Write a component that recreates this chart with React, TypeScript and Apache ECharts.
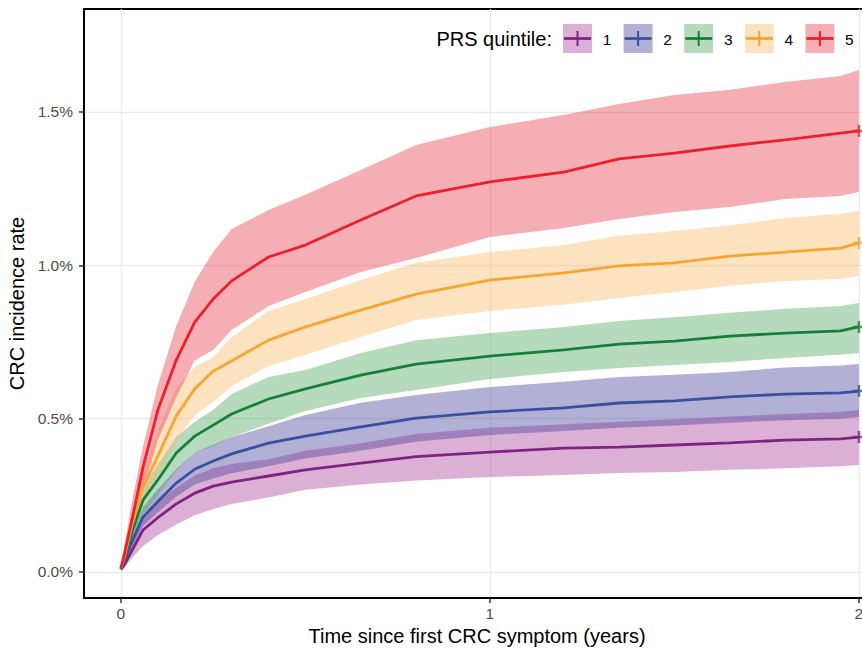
import React, { useEffect, useRef } from 'react';
import * as echarts from 'echarts';

// Time since first CRC symptom (years)
const TIME = [0, 0.01, 0.03, 0.06, 0.1, 0.15, 0.2, 0.25, 0.3, 0.4, 0.5, 0.65, 0.8, 1.0, 1.2, 1.35, 1.5, 1.65, 1.8, 1.95, 2.0];

// CRC incidence rate (%) per PRS quintile: estimate, lower CI, upper CI
const Q1_EST = [0.008, 0.025, 0.07, 0.137, 0.177, 0.222, 0.257, 0.28, 0.293, 0.313, 0.333, 0.355, 0.376, 0.391, 0.404, 0.407, 0.414, 0.421, 0.43, 0.434, 0.44];
const Q1_LO = [0.005, 0.015, 0.045, 0.085, 0.12, 0.155, 0.185, 0.205, 0.222, 0.243, 0.268, 0.285, 0.298, 0.31, 0.316, 0.323, 0.326, 0.333, 0.338, 0.345, 0.349];
const Q1_HI = [0.01, 0.035, 0.095, 0.18, 0.23, 0.275, 0.315, 0.338, 0.352, 0.368, 0.395, 0.42, 0.45, 0.47, 0.482, 0.49, 0.498, 0.507, 0.515, 0.522, 0.528];

const Q2_EST = [0.01, 0.04, 0.1, 0.179, 0.23, 0.29, 0.335, 0.362, 0.385, 0.42, 0.443, 0.473, 0.502, 0.522, 0.535, 0.551, 0.558, 0.571, 0.58, 0.584, 0.59];
const Q2_LO = [0.008, 0.03, 0.08, 0.15, 0.195, 0.245, 0.285, 0.305, 0.322, 0.345, 0.37, 0.395, 0.425, 0.447, 0.46, 0.47, 0.478, 0.487, 0.495, 0.5, 0.505];
const Q2_HI = [0.012, 0.05, 0.125, 0.21, 0.27, 0.335, 0.39, 0.415, 0.44, 0.475, 0.512, 0.552, 0.577, 0.603, 0.62, 0.636, 0.643, 0.652, 0.667, 0.673, 0.678];

const Q3_EST = [0.01, 0.045, 0.13, 0.235, 0.3, 0.388, 0.443, 0.479, 0.515, 0.564, 0.597, 0.642, 0.678, 0.704, 0.724, 0.743, 0.753, 0.769, 0.779, 0.786, 0.799];
const Q3_LO = [0.008, 0.035, 0.1, 0.19, 0.25, 0.33, 0.39, 0.41, 0.44, 0.483, 0.525, 0.567, 0.593, 0.629, 0.652, 0.665, 0.675, 0.685, 0.698, 0.708, 0.714];
const Q3_HI = [0.012, 0.06, 0.16, 0.28, 0.35, 0.44, 0.49, 0.528, 0.58, 0.636, 0.659, 0.714, 0.756, 0.779, 0.799, 0.818, 0.831, 0.845, 0.858, 0.867, 0.877];

const Q4_EST = [0.013, 0.052, 0.153, 0.277, 0.378, 0.509, 0.597, 0.655, 0.688, 0.756, 0.799, 0.854, 0.906, 0.952, 0.975, 0.998, 1.008, 1.03, 1.043, 1.056, 1.073];
const Q4_LO = [0.01, 0.04, 0.12, 0.22, 0.31, 0.43, 0.51, 0.554, 0.606, 0.672, 0.708, 0.766, 0.822, 0.851, 0.871, 0.893, 0.913, 0.933, 0.949, 0.955, 0.965];
const Q4_HI = [0.016, 0.07, 0.19, 0.33, 0.46, 0.6, 0.67, 0.7, 0.766, 0.851, 0.89, 0.952, 1.008, 1.043, 1.066, 1.096, 1.112, 1.131, 1.154, 1.167, 1.177];

const Q5_EST = [0.013, 0.062, 0.17, 0.342, 0.528, 0.691, 0.815, 0.89, 0.949, 1.027, 1.066, 1.148, 1.226, 1.272, 1.304, 1.347, 1.366, 1.389, 1.409, 1.431, 1.438];
const Q5_LO = [0.008, 0.04, 0.13, 0.27, 0.43, 0.57, 0.69, 0.724, 0.789, 0.867, 0.913, 0.978, 1.024, 1.092, 1.122, 1.151, 1.174, 1.19, 1.216, 1.226, 1.239];
const Q5_HI = [0.02, 0.09, 0.23, 0.41, 0.61, 0.802, 0.946, 1.043, 1.118, 1.18, 1.23, 1.311, 1.392, 1.451, 1.49, 1.526, 1.555, 1.572, 1.598, 1.617, 1.637];

const QUINTILES = ['1', '2', '3', '4', '5'];
const X_TICKS = [0, 1, 2];
const Y_TICKS = [0, 0.5, 1.0, 1.5];

const EST = [Q1_EST, Q2_EST, Q3_EST, Q4_EST, Q5_EST];
const LO = [Q1_LO, Q2_LO, Q3_LO, Q4_LO, Q5_LO];
const HI = [Q1_HI, Q2_HI, Q3_HI, Q4_HI, Q5_HI];

const LINE_COLORS = ['#7E2382', '#3B4FA0', '#177F3D', '#F8A432', '#EE1F2D'];
const BAND_COLORS = [
  'rgba(165,58,148,0.4)',
  'rgba(65,58,152,0.4)',
  'rgba(70,162,88,0.4)',
  'rgba(248,183,95,0.4)',
  'rgba(233,53,70,0.4)',
];

const FONT = '"Liberation Sans", Arial, Helvetica, sans-serif';
const PLUS = 'path://M4,0H6V4H10V6H6V10H4V6H0V4H4Z';

export default function App() {
  const ref = useRef<HTMLDivElement>(null);

  useEffect(() => {
    if (!ref.current) return;
    const chart = echarts.init(ref.current, null, { renderer: 'svg' });

    const bandSeries = QUINTILES.map((q, k) => ({
      type: 'custom',
      name: 'band ' + q,
      silent: true,
      z: 1,
      data: TIME.map((t, i) => [t, LO[k][i], HI[k][i]]),
      encode: { x: 0, y: [1, 2] },
      renderItem: (params: any, api: any) => {
        if (params.dataIndex !== 0) return null;
        const n = TIME.length;
        const pts: number[][] = [];
        for (let j = 0; j < n; j++) pts.push(api.coord([api.value(0, j), api.value(2, j)]));
        for (let j = n - 1; j >= 0; j--) pts.push(api.coord([api.value(0, j), api.value(1, j)]));
        return { type: 'polygon', shape: { points: pts }, style: { fill: BAND_COLORS[k] } };
      },
    }));

    const lineSeries = QUINTILES.map((q, k) => ({
      type: 'line',
      name: q,
      z: 3,
      showSymbol: false,
      symbol: 'none',
      data: TIME.map((t, i) => [t, EST[k][i]]),
      lineStyle: { color: LINE_COLORS[k], width: 2.8 },
      itemStyle: { color: LINE_COLORS[k] },
    }));

    const endMarks = {
      type: 'scatter',
      name: 'censor',
      z: 4,
      symbol: PLUS,
      symbolSize: 12,
      data: QUINTILES.map((q, k) => ({
        value: [TIME[TIME.length - 1], EST[k][EST[k].length - 1]],
        itemStyle: { color: LINE_COLORS[k] },
      })),
    };

    const legendX0 = 563;
    const legendStep = 60.6;
    const legendGraphics: any[] = [
      {
        type: 'text',
        x: 552,
        y: 39,
        z: 100,
        style: { text: 'PRS quintile:', align: 'right', verticalAlign: 'middle', fontSize: 20, fontFamily: FONT, fill: '#000' },
      },
    ];
    QUINTILES.forEach((q, k) => {
      const bx = legendX0 + k * legendStep;
      legendGraphics.push(
        { type: 'rect', z: 100, shape: { x: bx, y: 24, width: 29, height: 29 }, style: { fill: BAND_COLORS[k] } },
        { type: 'line', z: 101, shape: { x1: bx + 1, y1: 38.5, x2: bx + 28, y2: 38.5 }, style: { stroke: LINE_COLORS[k], lineWidth: 2.8 } },
        { type: 'line', z: 101, shape: { x1: bx + 14.5, y1: 31, x2: bx + 14.5, y2: 46 }, style: { stroke: LINE_COLORS[k], lineWidth: 2 } },
        {
          type: 'text',
          z: 101,
          x: bx + 44,
          y: 39,
          style: { text: q, align: 'center', verticalAlign: 'middle', fontSize: 15.5, fontFamily: FONT, fill: '#000' },
        }
      );
    });

    chart.setOption({
      animation: false,
      backgroundColor: '#fff',
      textStyle: { fontFamily: FONT },
      grid: {
        left: 84,
        top: 9,
        width: 786,
        height: 589,
        show: true,
        borderColor: '#000',
        borderWidth: 1.8,
        backgroundColor: 'transparent',
        outerBoundsMode: 'none',
        containLabel: false,
      },
      xAxis: {
        type: 'value',
        min: -0.1,
        max: 2.03,
        name: 'Time since first CRC symptom (years)',
        nameLocation: 'middle',
        nameGap: 25,
        nameTextStyle: { fontSize: 20, color: '#000', fontFamily: FONT },
        axisLine: { show: true, onZero: false, lineStyle: { color: '#000', width: 1.8 } },
        axisTick: { show: true, customValues: X_TICKS, length: 5, lineStyle: { color: '#333', width: 1.5 } },
        axisLabel: { customValues: X_TICKS, formatter: (v: number) => String(v), color: '#4D4D4D', fontSize: 15.5, margin: 7, fontFamily: FONT },
        splitLine: { show: true, lineStyle: { color: '#EBEBEB', width: 1.3 } },
      },
      yAxis: {
        type: 'value',
        min: -0.0848,
        max: 1.8357,
        name: 'CRC incidence rate',
        nameLocation: 'middle',
        nameGap: 53,
        nameTextStyle: { fontSize: 20, color: '#000', fontFamily: FONT },
        axisLine: { show: true, onZero: false, lineStyle: { color: '#000', width: 1.8 } },
        axisTick: { show: true, customValues: Y_TICKS, length: 5, lineStyle: { color: '#333', width: 1.5 } },
        axisLabel: { customValues: Y_TICKS, formatter: (v: number) => v.toFixed(1) + '%', color: '#4D4D4D', fontSize: 15.5, margin: 11, fontFamily: FONT },
        splitLine: { show: true, lineStyle: { color: '#EBEBEB', width: 1.3 } },
      },
      graphic: legendGraphics,
      series: [...bandSeries, ...lineSeries, endMarks],
    });

    return () => chart.dispose();
  }, []);

  return <div ref={ref} style={{ position: 'fixed', left: 0, top: 0, width: 862, height: 648 }} />;
}
